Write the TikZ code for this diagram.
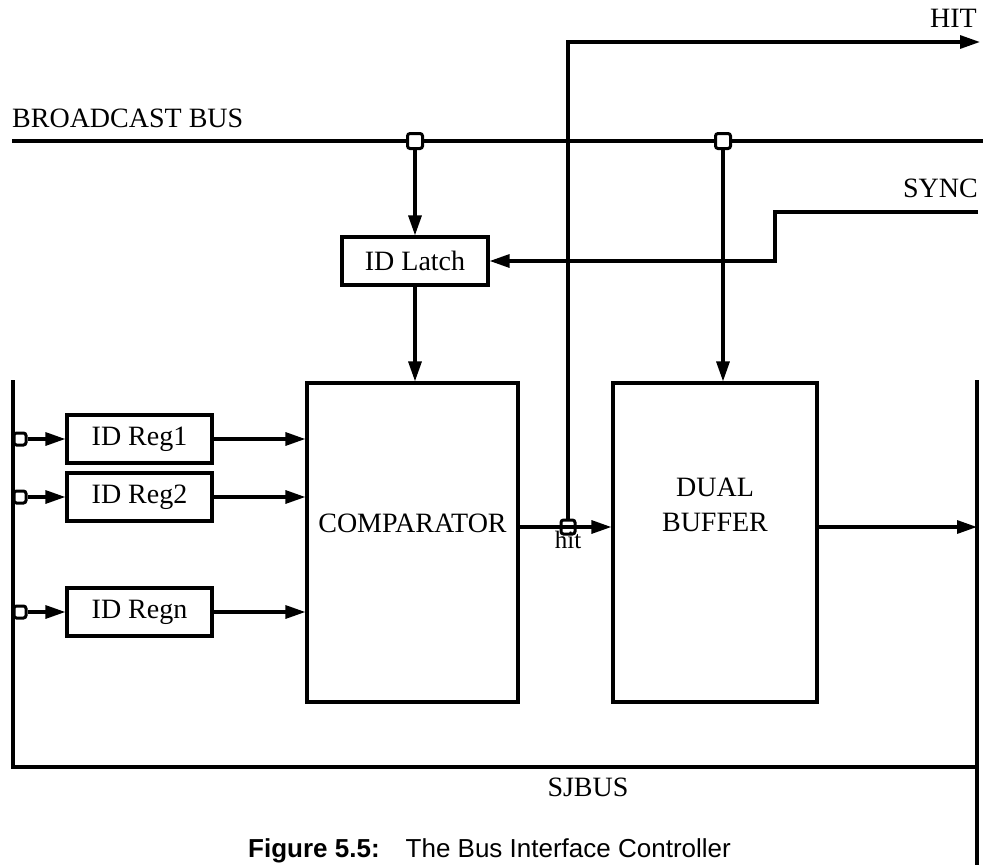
\documentclass[tikz,border=0pt]{standalone}
\usepackage{fontspec}
\setmainfont{Liberation Serif}
\newfontfamily\capfont{Liberation Sans}
\usepackage{tikz}
\usetikzlibrary{arrows.meta, positioning, calc}
\tikzset{
  box/.style={rectangle, draw, line width=3.2pt, inner sep=0pt, align=center},
  regbox/.style={box, minimum width=145pt, minimum height=48pt},
  tap/.style={rectangle, draw, fill=white, line width=3pt, rounded corners=2.5pt,
    minimum size=12pt, inner sep=0pt},
  arrow/.style={-{Triangle[length=20pt,width=13pt]}, line width=3.2pt},
  line/.style={line width=3.2pt},
  lbl/.style={inner sep=0pt}
}

\begin{document}
\begin{tikzpicture}[x=1pt, y=-1pt, font=\fontsize{28}{32}\selectfont]
  \useasboundingbox (0,0) rectangle (983,865);

  % Buses
  \coordinate (bbL) at (12,141);
  \coordinate (bbR) at (983,141);
  \coordinate (lbT) at (13,380);
  \coordinate (lbB) at (13,767);
  \coordinate (rbT) at (977,380);
  \coordinate (rbB) at (977,767);
  \coordinate (rbE) at (977,870);
  \draw[line] (bbL) -- (bbR);
  \draw[line] (lbT) -- (lbB) -- (rbB);
  \draw[line] (rbT) -- (rbE);

  % Blocks
  \node[box, minimum width=146pt, minimum height=48pt] (latch) at (415,261) {ID Latch};
  \node[box, minimum width=211pt, minimum height=319pt,
    label={[lbl, yshift=19pt]center:COMPARATOR}] (comp) at (412.5,542.5) {};
  \node[box, minimum width=204pt, minimum height=319pt,
    label={[lbl, yshift=38pt, align=center, font=\fontsize{28}{35}\selectfont]center:DUAL\\BUFFER}] (buf) at (715,542.5) {};
  \node[regbox] (reg1) at (139.5,439) {ID Reg1};
  \node[regbox] (reg2) at (139.5,497) {ID Reg2};
  \node[regbox] (regn) at (139.5,612) {ID Regn};

  % Taps
  \node[tap, minimum size=15pt] (tapa) at (415,141) {};
  \node[tap, minimum size=15pt] (tapb) at (723,141) {};
  \node[tap] (tap1) at (20,439) {};
  \node[tap] (tap2) at (20,497) {};
  \node[tap] (tapn) at (20,612) {};
  \node[tap, minimum size=14pt] (hitj) at (568,527) {};

  % Register paths
  \foreach \r/\t in {reg1/tap1, reg2/tap2, regn/tapn} {
    \draw[arrow] (\t) -- (\r);
    \draw[arrow] (\r) -- (\r -| comp.west);
  }

  % Broadcast paths
  \draw[arrow] (tapa) -- (latch);
  \draw[arrow] (latch.south) -- (latch.south |- comp.north);
  \draw[arrow] (tapb) -- (tapb |- buf.north);

  % SYNC
  \coordinate (syncR) at (978,212);
  \coordinate (syncK) at (775,212);
  \draw[arrow] (syncR) -- (syncK) |- (latch.east);

  % hit / HIT
  \coordinate (hitK) at (568,42);
  \coordinate (hitR) at (980,42);
  \draw[arrow] (hitj -| comp.east) -- (hitj -| buf.west);
  \draw[arrow] (hitj) -- (hitK) -- (hitR);
  \draw[arrow] (hitj -| buf.east) -- (hitj -| rbT);

  % Labels
  \node[lbl, anchor=base west] (bblbl) at (12,127) {BROADCAST BUS};
  \node[lbl, anchor=base east] (hitlbl) at (977,27) {HIT};
  \node[lbl, anchor=base east] (synclbl) at (978,197) {SYNC};
  \node[lbl, anchor=north, font=\fontsize{25}{28}\selectfont] (hitsm) at (568,531) {hit};
  \node[lbl, anchor=base] (sjlbl) at (588,796) {SJBUS};
  \node[lbl, anchor=base west, font=\capfont\fontsize{26}{30}\selectfont] (cap) at (248,857)
    {\textbf{Figure 5.5:}\quad The Bus Interface Controller};
\end{tikzpicture}
\end{document}
